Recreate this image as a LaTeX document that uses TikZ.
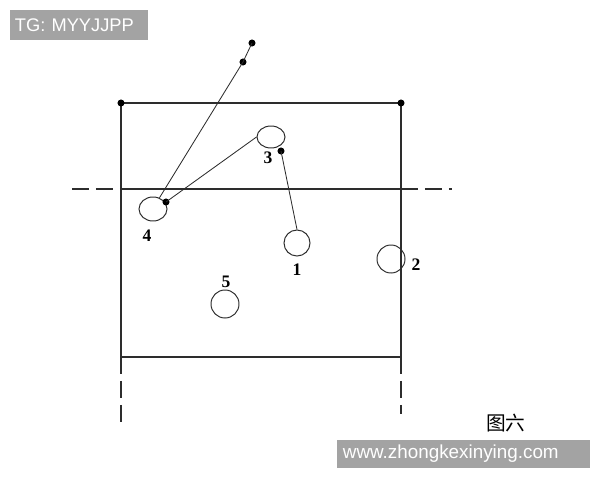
\documentclass[tikz,border=0pt]{standalone}
\usepackage{fontspec}
\setmainfont{Liberation Serif}
\newfontfamily\marksans{Liberation Sans}
\newfontfamily\cjk{Noto Sans CJK SC}
\usetikzlibrary{shapes.geometric}
\definecolor{courtgray}{RGB}{45, 45, 45}
\definecolor{stampgray}{RGB}{163, 163, 163}
\tikzstyle{court_line}=[line width=0.8pt, draw=courtgray]
\tikzstyle{court_dash}=[court_line, dash pattern=on 12pt off 5pt]
\tikzstyle{player_ring}=[ellipse, draw=courtgray, line width=0.7pt, inner sep=0pt]
\tikzstyle{player_num}=[font=\fontsize{12.5}{14}\selectfont\bfseries, inner sep=0pt]
\tikzstyle{ball_dot}=[circle, fill=black, inner sep=0pt, minimum size=5pt]
\tikzstyle{stamp_box}=[rectangle, fill=stampgray, text=white, align=left, inner ysep=0pt]

\begin{document}
\begin{tikzpicture}[x=0.025cm, y=-0.025cm]
  \useasboundingbox (0,0) rectangle (600,480);

  % Court outline
  \draw[court_line] (121,357) -- (121,103) -- (401,103) -- (401,357) -- cycle;
  \node[ball_dot] (corner_l) at (121,103) {};
  \node[ball_dot] (corner_r) at (401,103) {};

  % Middle line, dashed outside the court
  \draw[court_line] (121,189) -- (401,189);
  \draw[court_dash] (72,189) -- (121,189);
  \draw[court_dash] (401,189) -- (452,189);

  % Side lines going on below the court
  \draw[court_dash] (121,357) -- (121,426);
  \draw[court_dash] (401,357) -- (401,414);

  % Players
  \node[player_ring, minimum width=0.7cm, minimum height=0.55cm] (p3) at (271,137) {};
  \node[player_ring, minimum width=0.7cm, minimum height=0.6cm] (p4) at (153,209) {};
  \node[player_ring, minimum width=0.65cm, minimum height=0.65cm] (p1) at (297,243) {};
  \node[player_ring, minimum width=0.7cm, minimum height=0.7cm] (p2) at (391,259) {};
  \node[player_ring, minimum width=0.7cm, minimum height=0.7cm] (p5) at (225,304) {};

  % Player numbers
  \node[player_num] (n3) at (268,158) {3};
  \node[player_num] (n4) at (147,236) {4};
  \node[player_num] (n1) at (297,270) {1};
  \node[player_num] (n2) at (416,265) {2};
  \node[player_num] (n5) at (226,282) {5};

  % Ball path: 4 to 3, 3 to 1, and 4 out over the top line
  \node[ball_dot] (b4) at (166,202) {};
  \node[ball_dot] (b3) at (281,151) {};
  \node[ball_dot] (b_out) at (243,62) {};
  \node[ball_dot] (b_far) at (252,43) {};
  \draw[court_line, line width=0.6pt] (b4.center) -- (p3.west);
  \draw[court_line, line width=0.6pt] (b3.center) -- (p1.north);
  \draw[court_line, line width=0.6pt] (p4.60) -- (b_out.center) -- (b_far.center);

  % Caption
  \node[font=\cjk\fontsize{14}{16}\selectfont, anchor=west, inner sep=0pt] (caption) at (486,423) {图六};

  % Grey stamps
  \node[stamp_box, font=\marksans\fontsize{13}{15}\selectfont, minimum height=0.75cm,
    text width=3.2cm, inner xsep=0.125cm] (stamp_tg) at (79,25) {TG: MYYJJPP};
  \node[stamp_box, font=\marksans\fontsize{13.4}{15}\selectfont, minimum height=0.7cm,
    text width=6.025cm, inner xsep=0.15cm] (stamp_web) at (463.5,454) {www.zhongkexinying.com};

\end{tikzpicture}
\end{document}
